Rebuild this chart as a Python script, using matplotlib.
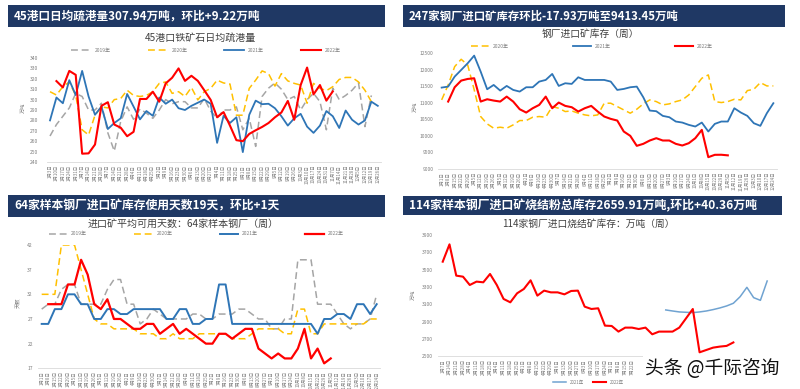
import matplotlib
matplotlib.use('Agg')
import matplotlib.pyplot as plt
from matplotlib.patches import Rectangle
import numpy as np
import pandas as pd

plt.rcParams['font.family'] = ['Noto Sans CJK SC', 'DejaVu Sans']

# ---------------- data ----------------
# Panel 1: 45 ports daily average ore pickup (万吨)
tl_2019 = [265, 276, 284, 292, 306, 303, 290, 290, 296.5, 268, 250.5, 279, 293, 281, 291, 287, 282, 290, 300,
           296, 298, 298, 292, 292, 301, 289, 282, 290, 290, 293, 271, 282, 255, 303, 311, 316, 310, 300, 303,
           290, 300, 306, 298, 271, 311, 300, 304, 309, 316, 274, 304]
tl_2020 = [307.6, 304.4, 312.4, 317, 304, 271, 266, 285, 293, 292, 300, 301, 309, 304, 303, 304, 307.6, 315.6,
           317, 306, 307.6, 303, 311.7, 299.7, 307.6, 310.8, 318.7, 316, 315, 285, 285, 310.8, 318.7, 327.6,
           325, 313, 325, 318, 315.6, 314, 296.5, 315.6, 310.8, 308.6, 312.4, 319.4, 321.3, 321.3, 317, 309, 298]
tl_2021 = [280, 302, 296.5, 318.7, 304.4, 327.6, 303, 285.4, 293.3, 271.7, 277.5, 282, 305.4, 293.3, 281, 289,
           284.4, 302, 296, 300, 291.7, 290, 294, 297, 300, 296, 258.4, 284.4, 277.5, 283, 249.5, 285.4, 299,
           295.6, 296, 291.7, 284, 275, 282, 286.3, 274, 268, 275, 289, 284, 272.7, 289.5, 280.6, 276, 280, 298, 294]
tl_2022 = [317.8, 311.7, 327.6, 323.8, 248, 248.3, 256.8, 294, 297.5, 276, 273, 264.8, 269, 300.6, 300.6,
           307.6, 298, 315.6, 321, 330, 318, 322.9, 318, 309, 299.7, 283, 288, 275, 261, 260, 267, 270.5,
           273.7, 277.5, 283, 287.6, 298.7, 280.6, 314, 330.8, 305, 314, 299, 307.9]
tl_2022_start = 1

# Panel 2: 247 mills imported ore inventory (万吨)
tr_2020 = [11090, 11543, 12097, 12319, 12148, 11400, 10587, 10365, 10234, 10264, 10234, 10335, 10466, 10466,
           10567, 10587, 10567, 10889, 10838, 10738, 10758, 10688, 10637, 10607, 10637, 10990, 10990, 10889,
           10788, 10688, 10808, 10970, 11090, 11040, 10939, 10970, 11040, 11090, 11241, 11493, 11745, 11846,
           11040, 11010, 11040, 11110, 11090, 11372, 11412, 11614, 11513, 11513]
tr_2021 = [11463, 11493, 11795, 11996, 12198, 12430, 11946, 11412, 11543, 11372, 11513, 11392, 11342, 11473,
           11473, 11644, 11694, 11876, 11513, 11594, 11574, 11775, 11694, 11694, 11694, 11694, 11644, 11392,
           11422, 11473, 11493, 11171, 10768, 10748, 10607, 10567, 10436, 10405, 10335, 10285, 10405, 10134,
           10365, 10436, 10436, 10838, 10708, 10607, 10385, 10305, 10687, 10990]
tr_2022 = [11040, 11473, 11674, 11724, 11745, 11040, 11110, 11070, 11040, 11190, 11040, 10808, 10708, 10838,
           10939, 11190, 10838, 11010, 10909, 10869, 10738, 10838, 10909, 10738, 10587, 10516, 10466, 10134,
           10003, 9701, 9761, 9862, 9932, 9862, 9862, 9761, 9711, 9781, 9932, 10184, 9358, 9429, 9431, 9413]
tr_2022_start = 1

# Panel 3: 64 mills available days of imported ore (天)
bl_2019 = [29, 30, 30, 33, 34, 34, 30, 30, 30, 30, 33, 35, 35, 30, 30, 26, 27, 29, 28, 27, 27, 27, 27, 28, 28,
           27, 27, 28, 28, 28, 29, 29, 28, 27, 27, 25, 25, 27, 27, 39, 39, 39, 30, 30, 30, 28, 26, 25, 26, 26, 27, 32]
bl_2020 = [32, 32, 32, 42, 42, 42, 37, 32, 27, 26, 26, 25, 25, 25, 25, 24, 24, 24, 23, 23, 24, 23, 23, 23, 24,
           24, 24, 24, 24, 23, 23, 23, 24, 25, 25, 25, 25, 24, 24, 29, 29, 24, 24, 26, 26, 26, 26, 26, 26, 26, 27, 27]
bl_2021 = [26, 26, 29, 29, 32, 32, 30, 30, 27, 27, 29, 29, 28, 28, 29, 29, 29, 29, 29, 27, 27, 29, 29, 26, 26,
           27, 27, 34, 34, 26, 26, 26, 26, 26, 26, 26, 26, 26, 26, 26, 26, 26, 24, 27, 27, 28, 28, 27, 30, 30, 28, 30]
bl_2022 = [30, 30, 30, 34, 34, 39, 36, 30, 29, 31, 27, 27, 26, 25, 25, 26, 26, 24, 25, 26, 24, 25, 24, 23, 22,
           22, 24, 24, 23, 24, 25, 25, 21, 20, 19, 20, 19, 19, 21, 25, 19, 21, 18, 19]
bl_2022_start = 1

# Panel 4: 114 mills imported sinter fines inventory (万吨)
br_2022 = [3592, 3792, 3431, 3419, 3323, 3362, 3354, 3450, 3323, 3162, 3123, 3227, 3277, 3377, 3200, 3258,
           3238, 3238, 3215, 3254, 3258, 3073, 3046, 3054, 2854, 2850, 2785, 2831, 2831, 2815, 2831, 2754,
           2785, 2785, 2785, 2831, 2938, 3046, 2546, 2573, 2600, 2612, 2620, 2660]
br_2021 = [3035, 3023, 3012, 3008, 3004, 3012, 3023, 3039, 3058, 3081, 3112, 3188, 3296, 3177, 3146, 3369]
br_2021_start = 33

tl_dates = [f"{d.month}月{d.day}日" for d in pd.date_range('2021-01-03', periods=52, freq='7D')]
tr_dates = [f"{d.month}月{d.day}日" for d in pd.date_range('2021-01-01', periods=52, freq='7D')]
bl_dates = [f"{d.month}月{d.day}日" for d in pd.date_range('2021-01-01', periods=52, freq='7D')]
# labels to the right of index 28 are hidden under the watermark in the reference
br_dates = [f"{d.month}月{d.day}日" if i <= 28 else ''
            for i, d in enumerate(pd.date_range('2021-01-07', periods=50, freq='7D'))]

titles_banner = ["45港口日均疏港量307.94万吨，环比+9.22万吨",
                 "247家钢厂进口矿库存环比-17.93万吨至9413.45万吨",
                 "64家样本钢厂进口矿库存使用天数19天，环比+1天",
                 "114家样本钢厂进口矿烧结粉总库存2659.91万吨,环比+40.36万吨"]
titles_chart = ["45港口铁矿石日均疏港量", "钢厂进口矿库存（周）",
                "进口矿平均可用天数：64家样本钢厂（周）", "114家钢厂进口烧结矿库存：万吨（周）"]

# ---------------- figure ----------------
W, H = 800, 389
fig = plt.figure(figsize=(8, 3.89), dpi=100)
fig.patch.set_facecolor('white')

def fx(x): return x / W
def fy(y): return 1 - y / H

def add_axes(x0, x1, y0, y1):
    return fig.add_axes([fx(x0), fy(y1), (x1 - x0) / W, (y1 - y0) / H])

NAVY = '#1F3864'
GRAY = '#A5A5A5'
YEL = '#FFC000'
BLUE = '#2E75B6'
RED = '#FF0000'
TXT = '#7F7F7F'

def banner(x0, x1, y0, y1, text, size):
    fig.patches.append(Rectangle((fx(x0), fy(y1)), (x1 - x0) / W, (y1 - y0) / H,
                                 transform=fig.transFigure, facecolor=NAVY, edgecolor='none', zorder=0))
    fig.text(fx(x0 + 6), fy((y0 + y1) / 2 + 0.5), text, color='white', fontsize=size,
             fontweight='bold', va='center', ha='left')

def style(ax, xlim, ylim, yticks, xlabels, ypad):
    ax.set_xlim(*xlim)
    ax.set_ylim(*ylim)
    ax.set_yticks(yticks)
    ax.set_xticks(range(len(xlabels)))
    ax.set_xticklabels(xlabels, rotation=90, fontsize=3.2, color=TXT)
    ax.tick_params(axis='y', labelsize=3.6, labelcolor=TXT, length=0, pad=ypad)
    ax.tick_params(axis='x', length=0, pad=2)
    for s in ['top', 'right', 'left']:
        ax.spines[s].set_visible(False)
    ax.spines['bottom'].set_color('#D9D9D9')
    ax.spines['bottom'].set_linewidth(0.6)
    ax.set_facecolor('none')

def line(ax, start, vals, color, lw, dashed=False, label=None):
    x = np.arange(start, start + len(vals))
    ls = (0, (4.5, 2.5)) if dashed else '-'
    ax.plot(x, vals, color=color, lw=lw, ls=ls, label=label,
            solid_joinstyle='round', dash_joinstyle='round')

def legend(ax, cx, y, hl, cs, fs=3.6, ncol=4):
    ax.legend(loc='center', bbox_to_anchor=(fx(cx), fy(y)), bbox_transform=fig.transFigure,
              ncol=ncol, frameon=False, fontsize=fs, handlelength=hl, columnspacing=cs,
              handletextpad=0.8, borderpad=0, labelcolor=TXT)

# ---- panel 1 ----
banner(8, 385, 5, 27, titles_banner[0], 8.4)
fig.text(fx(200), fy(38), titles_chart[0], ha='center', va='center', fontsize=7.2, color='#404040')
ax1 = add_axes(46.8, 381, 58, 162)
line(ax1, 0, tl_2019, GRAY, 1.1, True, '2019年')
line(ax1, 0, tl_2020, YEL, 1.1, True, '2020年')
line(ax1, 0, tl_2021, BLUE, 1.3, False, '2021年')
line(ax1, tl_2022_start, tl_2022, RED, 1.5, False, '2022年')
style(ax1, (-0.5, 51.5), (240, 340), np.arange(240, 341, 10), tl_dates, 6.5)
legend(ax1, 206, 50, 4.0, 7.3)
fig.text(fx(23), fy(108), '万吨', rotation=90, fontsize=3.8, color=TXT, ha='center', va='center')

# ---- panel 2 ----
banner(403, 785, 5, 27, titles_banner[1], 8.2)
fig.text(fx(590), fy(34), titles_chart[1], ha='center', va='center', fontsize=7.0, color='#404040')
ax2 = add_axes(438.4, 776.6, 53.3, 169)
line(ax2, 0, tr_2020, YEL, 1.1, True, '2020年')
line(ax2, 0, tr_2021, BLUE, 1.3, False, '2021年')
line(ax2, tr_2022_start, tr_2022, RED, 1.5, False, '2022年')
style(ax2, (-0.5, 51.5), (9000, 12500), np.arange(9000, 12501, 500), tr_dates, 3.5)
legend(ax2, 592, 46, 3.5, 12.9, ncol=3)
fig.text(fx(415), fy(107), '万吨', rotation=90, fontsize=3.8, color=TXT, ha='center', va='center')

# ---- panel 3 ----
banner(8, 385, 195, 217, titles_banner[2], 8.5)
fig.text(fx(183), fy(224), titles_chart[2], ha='center', va='center', fontsize=7.2, color='#404040')
ax3 = add_axes(38.4, 380, 245, 368.3)
line(ax3, 0, bl_2019, GRAY, 1.1, True, '2019年')
line(ax3, 0, bl_2020, YEL, 1.1, True, '2020年')
line(ax3, 0, bl_2021, BLUE, 1.4, False, '2021年')
line(ax3, bl_2022_start, bl_2022, RED, 1.6, False, '2022年')
style(ax3, (-0.5, 51.5), (17, 42), np.arange(17, 43, 5), bl_dates, 4)
legend(ax3, 196, 234, 3.7, 9.4)
fig.text(fx(19), fy(303), '天数', rotation=90, fontsize=3.8, color=TXT, ha='center', va='center')

# ---- panel 4 ----
banner(403, 782, 196, 215, titles_banner[3], 8.6)
fig.text(fx(588), fy(224), titles_chart[3], ha='center', va='center', fontsize=7.0, color='#404040',
         style='italic')
ax4 = add_axes(438, 780, 235, 356.3)
line(ax4, br_2021_start, br_2021, '#70A3D1', 1.1, False, '2021年')
line(ax4, 0, br_2022, RED, 1.5, False, '2022年')
style(ax4, (-0.7, 49.9), (2500, 3900), np.arange(2500, 3901, 200), br_dates, 3.5)
legend(ax4, 588, 382, 3.0, 2.0, fs=3.2, ncol=2)
fig.text(fx(413), fy(295), '万吨', rotation=90, fontsize=3.8, color=TXT, ha='center', va='center')

# watermark
fig.text(fx(712), fy(368), '头条 @千际咨询', ha='center', va='center', fontsize=13.5, color='#111111',
         bbox=dict(facecolor='white', edgecolor='none', pad=1.5))

fig.savefig('out.png', dpi=100, facecolor='white')
